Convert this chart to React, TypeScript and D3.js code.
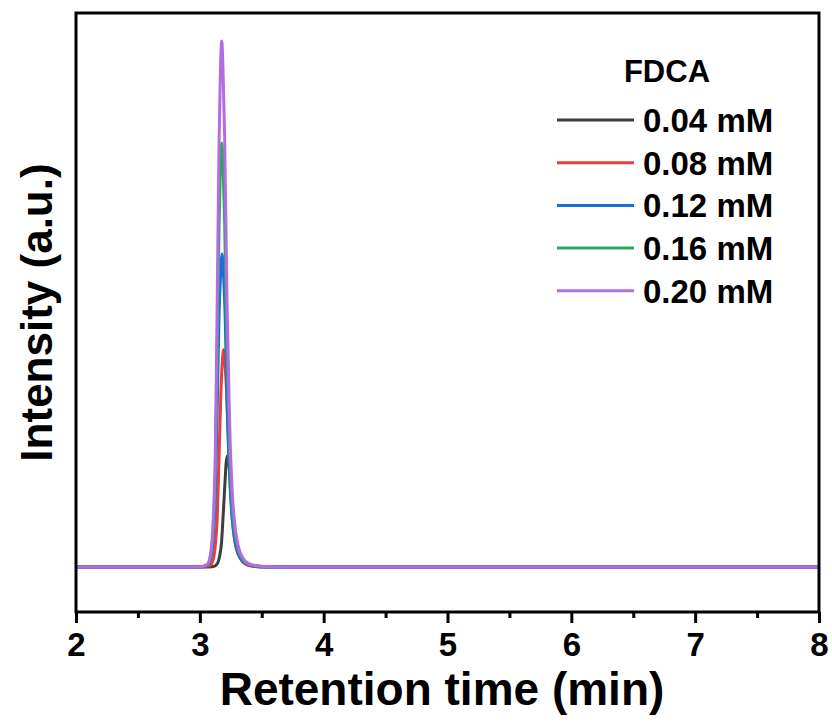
import { useEffect, useRef } from 'react';
import * as d3 from 'd3';

// concentrations (legend labels)
const seriesLabels = ['0.04 mM', '0.08 mM', '0.12 mM', '0.16 mM', '0.20 mM'];
const seriesColors = ['#3d3d3d', '#ee3b3b', '#1c6ed6', '#2fa463', '#b36ce4'];

// chromatograms: [retention time (min), intensity (a.u.)]
const c004: [number, number][] = [
  [2.0, 0], [3.05, 0], [3.11, 1], [3.14, 6], [3.16, 21], [3.175, 46], [3.19, 105],
  [3.205, 169], [3.212, 196], [3.222, 211], [3.235, 194], [3.245, 173], [3.265, 105],
  [3.285, 59], [3.305, 32], [3.325, 18], [3.355, 8], [3.395, 3], [3.445, 1], [3.52, 0], [8.0, 0],
];
const c008: [number, number][] = [
  [2.0, 0], [3.015, 0], [3.075, 2], [3.105, 12], [3.125, 41], [3.14, 91], [3.155, 207],
  [3.17, 330], [3.18, 384], [3.192, 413], [3.205, 380], [3.215, 339], [3.235, 207],
  [3.255, 116], [3.275, 62], [3.295, 35], [3.325, 17], [3.365, 7], [3.415, 2], [3.485, 1],
  [3.615, 0], [8.0, 0],
];
const c012: [number, number][] = [
  [2.0, 0], [3.0, 0], [3.06, 3], [3.09, 18], [3.11, 60], [3.125, 131], [3.14, 298],
  [3.155, 476], [3.167, 553], [3.18, 595], [3.193, 547], [3.203, 488], [3.222, 298],
  [3.242, 167], [3.262, 89], [3.282, 51], [3.312, 24], [3.352, 10], [3.402, 4], [3.47, 1],
  [3.6, 0], [8.0, 0],
];
const c016: [number, number][] = [
  [2.0, 0], [3.0, 0], [3.06, 4], [3.09, 24], [3.11, 81], [3.125, 177], [3.14, 403],
  [3.155, 645], [3.165, 750], [3.177, 806], [3.19, 742], [3.2, 661], [3.22, 403],
  [3.24, 226], [3.26, 121], [3.28, 69], [3.31, 32], [3.35, 13], [3.4, 5], [3.47, 2],
  [3.6, 0], [8.0, 0],
];
const c020: [number, number][] = [
  [2.0, 0], [3.0, 0], [3.06, 5], [3.09, 30], [3.11, 100], [3.125, 220], [3.14, 500],
  [3.155, 800], [3.165, 930], [3.177, 1000], [3.19, 920], [3.2, 820], [3.22, 500],
  [3.24, 280], [3.26, 150], [3.28, 85], [3.31, 40], [3.35, 16], [3.4, 6], [3.47, 2],
  [3.6, 0], [8.0, 0],
];
const allSeries = [c004, c008, c012, c016, c020];

const xTicks = [2, 3, 4, 5, 6, 7, 8];
const xMinorTicks = [2.5, 3.5, 4.5, 5.5, 6.5, 7.5];

const FONT = '"Liberation Sans", Arial, Helvetica, sans-serif';

export default function App() {
  const svgRef = useRef<SVGSVGElement>(null);

  useEffect(() => {
    if (!svgRef.current) return;
    const svg = d3.select(svgRef.current);
    svg.selectAll('*').remove();

    const left = 76;
    const right = 819;
    const top = 13;
    const bottom = 612;

    const x = d3.scaleLinear().domain([2, 8]).range([left, right]);
    const y = d3.scaleLinear().domain([-85.6, 1053]).range([bottom, top]);

    const line = d3
      .line<[number, number]>()
      .x(d => x(d[0]))
      .y(d => y(d[1]))
      .curve(d3.curveMonotoneX);

    // traces
    const plot = svg.append('g');
    allSeries.forEach((s, i) => {
      plot
        .append('path')
        .datum(s)
        .attr('d', line)
        .attr('fill', 'none')
        .attr('stroke', seriesColors[i])
        .attr('stroke-width', 3)
        .attr('stroke-linejoin', 'round');
    });

    // frame
    svg
      .append('rect')
      .attr('x', left)
      .attr('y', top)
      .attr('width', right - left)
      .attr('height', bottom - top)
      .attr('fill', 'none')
      .attr('stroke', '#000')
      .attr('stroke-width', 3);

    // x axis
    const xAxis = svg
      .append('g')
      .attr('transform', `translate(0,${bottom})`)
      .call(
        d3
          .axisBottom(x)
          .tickValues(xTicks)
          .tickSize(11)
          .tickPadding(10)
          .tickFormat(d3.format('d'))
      );
    xAxis.select('.domain').remove();
    xAxis.selectAll('line').attr('stroke', '#000').attr('stroke-width', 3);
    xAxis
      .selectAll('text')
      .attr('fill', '#000')
      .style('font-family', FONT)
      .style('font-weight', 'bold')
      .style('font-size', '33px');

    const xMinor = svg
      .append('g')
      .attr('transform', `translate(0,${bottom})`)
      .call(d3.axisBottom(x).tickValues(xMinorTicks).tickSize(6).tickFormat(() => ''));
    xMinor.select('.domain').remove();
    xMinor.selectAll('line').attr('stroke', '#000').attr('stroke-width', 3);

    // axis titles
    svg
      .append('text')
      .attr('x', 442)
      .attr('y', 705)
      .attr('text-anchor', 'middle')
      .style('font-family', FONT)
      .style('font-weight', 'bold')
      .style('font-size', '46px')
      .text('Retention time (min)');

    svg
      .append('text')
      .attr('transform', `translate(52,${(top + bottom) / 2}) rotate(-90)`)
      .attr('text-anchor', 'middle')
      .style('font-family', FONT)
      .style('font-weight', 'bold')
      .style('font-size', '44px')
      .text('Intensity (a.u.)');

    // legend
    const legend = svg.append('g');
    legend
      .append('text')
      .attr('x', 667)
      .attr('y', 82)
      .attr('text-anchor', 'middle')
      .style('font-family', FONT)
      .style('font-weight', 'bold')
      .style('font-size', '31px')
      .text('FDCA');

    seriesLabels.forEach((lab, i) => {
      const ly = 120 + i * 42.7;
      legend
        .append('line')
        .attr('x1', 557)
        .attr('x2', 634)
        .attr('y1', ly)
        .attr('y2', ly)
        .attr('stroke', seriesColors[i])
        .attr('stroke-width', 3);
      legend
        .append('text')
        .attr('x', 643)
        .attr('y', ly + 12)
        .style('font-family', FONT)
        .style('font-weight', 'bold')
        .style('font-size', '33px')
        .text(lab);
    });
  }, []);

  return (
    <svg
      ref={svgRef}
      width={832}
      height={727}
      style={{ position: 'absolute', left: 0, top: 0, background: '#fff' }}
    />
  );
}
